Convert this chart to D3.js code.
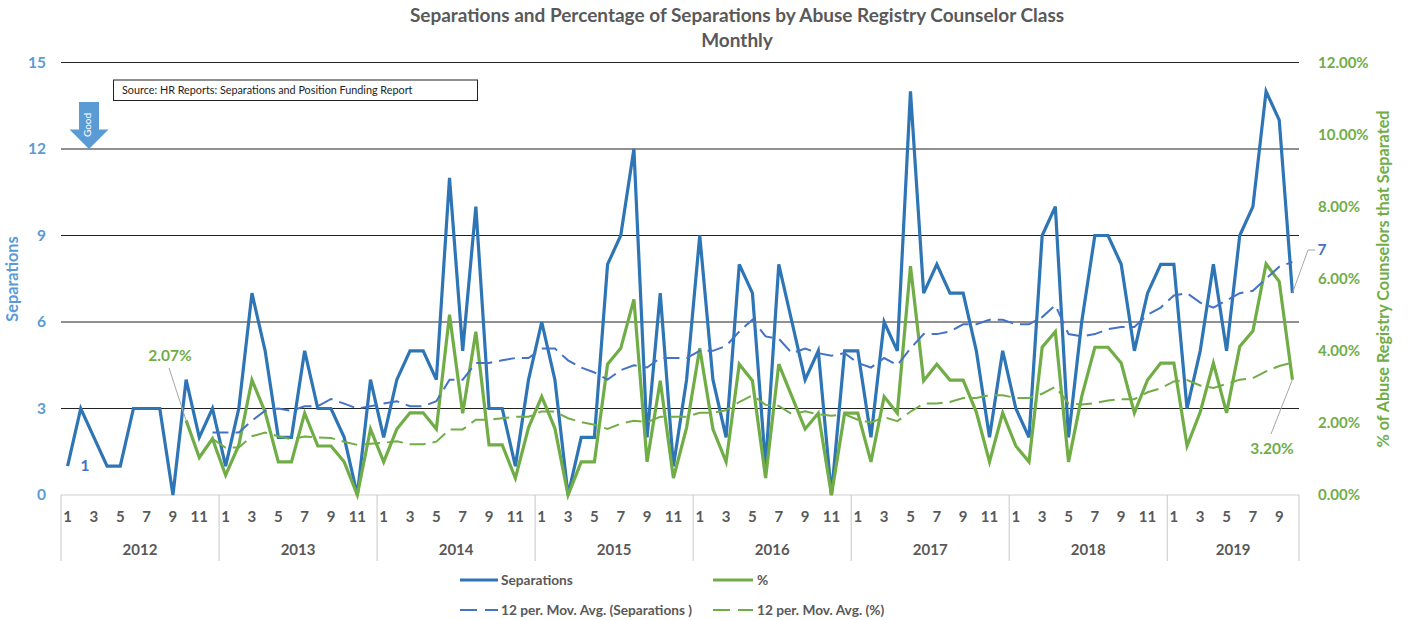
<!DOCTYPE html>
<html><head><meta charset="utf-8">
<script src="https://cdn.jsdelivr.net/npm/d3@7/dist/d3.min.js"></script>
<style>html,body{margin:0;background:#fff}svg{display:block}text{font-family:Lato,"Open Sans",sans-serif}</style>
</head><body><svg id="c" width="1408" height="620"></svg>
<script>
const years = [2012,2013,2014,2015,2016,2017,2018,2019];
const monthsPerYear = [12,12,12,12,12,12,12,10];
const separations = [1,3,2,1,1,3,3,3,0,4,2,3, 1,3,7,5,2,2,5,3,3,2,0,4, 2,4,5,5,4,11,5,10,3,3,1,4, 6,4,0,2,2,8,9,12,2,7,1,4, 9,4,2,8,7,1,8,6,4,5,0,5, 5,2,6,5,14,7,8,7,7,5,2,5, 3,2,9,10,2,6,9,9,8,5,7,8, 8,3,5,8,5,9,10,14,13,7];
const percent = [null,null,null,null,null,null,null,null,null,2.07,1.04,1.56,
 .55,1.38,3.19,2.3,.92,.92,2.27,1.36,1.36,.92,0,1.83,
 .92,1.83,2.28,2.28,1.83,5.0,2.27,4.53,1.39,1.39,.47,1.87,
 2.73,1.85,0,.92,.92,3.63,4.07,5.43,.92,3.17,.47,1.87,
 4.07,1.83,.92,3.63,3.17,.47,3.63,2.73,1.83,2.27,0,2.27,
 2.27,.92,2.73,2.27,6.35,3.17,3.63,3.19,3.19,2.3,.92,2.28,
 1.36,.92,4.1,4.53,.92,2.73,4.1,4.1,3.66,2.28,3.19,3.66,
 3.66,1.36,2.3,3.66,2.28,4.12,4.55,6.41,5.92,3.20];
const sepAvg = [null,null,null,null,null,null,null,null,null,null,null,2.17,
 2.17,2.17,2.58,2.92,3,2.92,3.08,3.08,3.33,3.17,3,3.08,
 3.17,3.25,3.08,3.08,3.25,4,4,4.58,4.58,4.67,4.75,4.75,
 5.08,5.08,4.67,4.42,4.25,4,4.33,4.5,4.42,4.75,4.75,4.75,
 5,5,5.17,5.67,6.08,5.5,5.42,4.92,5.08,4.92,4.83,4.92,
 4.58,4.42,4.75,4.5,5.08,5.58,5.58,5.67,5.92,5.92,6.08,6.08,
 5.92,5.92,6.17,6.58,5.58,5.5,5.58,5.75,5.83,5.83,6.25,6.5,
 6.92,7,6.67,6.5,6.75,7,7.08,7.5,7.92,8.08];
const pctAvg = [null,null,null,null,null,null,null,null,null,null,null,1.56,
 1.31,1.32,1.63,1.73,1.63,1.55,1.62,1.60,1.58,1.48,1.39,1.42,
 1.45,1.49,1.41,1.41,1.48,1.82,1.82,2.09,2.09,2.13,2.17,2.17,
 2.32,2.32,2.13,2.02,1.95,1.83,1.98,2.06,2.02,2.17,2.17,2.17,
 2.28,2.28,2.35,2.58,2.77,2.50,2.47,2.24,2.32,2.24,2.20,2.24,
 2.09,2.01,2.16,2.05,2.31,2.54,2.54,2.58,2.69,2.69,2.77,2.77,
 2.69,2.69,2.81,3.0,2.54,2.51,2.55,2.62,2.66,2.66,2.85,2.96,
 3.15,3.19,3.04,2.97,3.08,3.20,3.24,3.43,3.58,3.67];
const leftTicks = [0,3,6,9,12,15];
const rightTicks = [0,2,4,6,8,10,12];
const monthLabels = [1,3,5,7,9,11];
const titleLines = ["Separations and Percentage of Separations by Abuse Registry Counselor Class","Monthly"];
const legendItems = [
 {name:"Separations",c:"#2E75B6",w:3.2,d:null,col:0,row:0},
 {name:"%",c:"#70AD47",w:3.2,d:null,col:1,row:0},
 {name:"12 per. Mov. Avg. (Separations )",c:"#4472C4",w:2,d:"17 8",col:0,row:1},
 {name:"12 per. Mov. Avg. (%)",c:"#70AD47",w:2,d:"17 8",col:1,row:1}];

const L=61,R=1299,T=62.5,B=495,AXB=561;
const x=d3.scaleLinear().domain([0,94]).range([L,R]);
const cx=i=>x(i+.5);
const yL=d3.scaleLinear().domain([0,15]).range([B,T]);
const yR=d3.scaleLinear().domain([0,12]).range([B,T]);
const svg=d3.select("#c");
const blueTick="#5B9BD5", greenTick="#70AD47", greyText="#595959";

// title
svg.selectAll(".t").data(titleLines).join("text").attr("x",737).attr("y",(d,i)=>22+i*24.5)
 .attr("text-anchor","middle").attr("font-size",19).attr("font-weight",700).attr("fill",greyText).text(d=>d);

// gridlines
svg.append("g").selectAll("line").data(leftTicks.slice(1)).join("line")
 .attr("x1",L).attr("x2",R).attr("y1",d=>yL(d)).attr("y2",d=>yL(d)).attr("stroke","#222").attr("stroke-width",1.2);

// axes via d3
const gl=svg.append("g").attr("transform",`translate(${L},0)`).call(d3.axisLeft(yL).tickValues(leftTicks).tickSize(0).tickPadding(15));
gl.select(".domain").remove();
gl.selectAll("text").attr("font-size",15.5).attr("font-weight",700).attr("fill",blueTick).style("font-family","Lato");
const gr=svg.append("g").attr("transform",`translate(${R},0)`).call(d3.axisRight(yR).tickValues(rightTicks).tickFormat(d=>d.toFixed(2)+"%").tickSize(0).tickPadding(19));
gr.select(".domain").remove();
gr.selectAll("text").attr("font-size",15).attr("font-weight",700).attr("fill",greenTick).style("font-family","Lato");

// category axis
const axis=svg.append("g");
axis.append("line").attr("x1",L).attr("x2",R).attr("y1",B).attr("y2",B).attr("stroke","#D0D0D0").attr("stroke-width",1.2);
let start=0; const yearStarts=[];
years.forEach((y,i)=>{yearStarts.push(start);start+=monthsPerYear[i];});
yearStarts.concat([94]).forEach(s=>axis.append("line").attr("x1",x(s)).attr("x2",x(s)).attr("y1",B).attr("y2",AXB).attr("stroke","#D0D0D0").attr("stroke-width",1.2));
years.forEach((yr,i)=>{
 axis.append("text").attr("x",(x(yearStarts[i])+x(yearStarts[i]+monthsPerYear[i]))/2).attr("y",555).attr("text-anchor","middle")
  .attr("font-size",15).attr("font-weight",700).attr("fill",greyText).text(yr);
 monthLabels.filter(m=>m<=monthsPerYear[i]).forEach(m=>{
  axis.append("text").attr("x",cx(yearStarts[i]+m-1)).attr("y",522).attr("text-anchor","middle")
   .attr("font-size",15).attr("font-weight",700).attr("fill",greyText).text(m);
 });
});

// axis titles
svg.append("text").attr("transform","translate(18,279) rotate(-90)").attr("text-anchor","middle").attr("font-size",16.3).attr("font-weight",700).attr("fill",blueTick).text("Separations");
svg.append("text").attr("transform","translate(1389,279) rotate(-90)").attr("text-anchor","middle").attr("font-size",16.2).attr("font-weight",700).attr("fill",greenTick).text("% of Abuse Registry Counselors that Separated");

// series
const line=(y)=>d3.line().defined(d=>d!=null).x((d,i)=>cx(i)).y(d=>y(d));
const seriesDefs=[
 {v:separations,y:yL,c:"#2E75B6",w:3.2},
 {v:percent,y:yR,c:"#70AD47",w:3.2},
 {v:sepAvg,y:yL,c:"#4472C4",w:2,d:"16 7"},
 {v:pctAvg,y:yR,c:"#70AD47",w:2,d:"16 7"}];
svg.append("g").selectAll("path").data(seriesDefs).join("path")
 .attr("d",s=>line(s.y)(s.v)).attr("fill","none").attr("stroke",s=>s.c).attr("stroke-width",s=>s.w)
 .attr("stroke-dasharray",s=>s.d||null).attr("stroke-linejoin","miter").attr("stroke-miterlimit",4);

// leader lines + data labels
const leaders=[
 [[169,368],[cx(9),yR(2.07)]],
 [[cx(93),yL(7)],[1308,250],[1315,250]],
 [[1271,434],[cx(93),yR(3.2)]]];
svg.append("g").selectAll("path").data(leaders).join("path").attr("d",d=>d3.line()(d)).attr("fill","none").attr("stroke","#A6A6A6").attr("stroke-width",1);
const labels=[{t:"2.07%",x:170,y:361,c:greenTick},{t:"1",x:85,y:471,c:"#4472C4"},{t:"7",x:1322,y:255,c:"#4472C4"},{t:"3.20%",x:1272,y:454,c:greenTick}];
svg.append("g").selectAll("text").data(labels).join("text").attr("x",d=>d.x).attr("y",d=>d.y).attr("text-anchor","middle")
 .attr("font-size",15.5).attr("font-weight",700).attr("fill",d=>d.c).text(d=>d.t);

// source box
svg.append("rect").attr("x",113.5).attr("y",80).attr("width",364).attr("height",20.5).attr("fill","#fff").attr("stroke","#222").attr("stroke-width",1);
svg.append("text").attr("x",122).attr("y",93.5).attr("font-size",10.8).attr("fill","#222").text("Source: HR Reports: Separations and Position Funding Report");

// Good arrow
const ax=89;
svg.append("path").attr("d",d3.line()([[ax-10,102],[ax+10,102],[ax+10,129.5],[ax+19.5,129.5],[ax,149],[ax-19.5,129.5],[ax-10,129.5]])+"Z").attr("fill","#5B9BD5");
svg.append("text").attr("transform",`translate(${ax-2},125) rotate(-90)`).attr("text-anchor","middle").attr("dy","0.35em").attr("font-size",10).attr("fill","#fff").text("Good");

// legend
const lg=svg.append("g");
const colX=[460,713], rowY=[580,610];
legendItems.forEach(it=>{
 const xx=colX[it.col], yy=rowY[it.row];
 lg.append("line").attr("x1",xx).attr("x2",xx+(it.col?40:38)).attr("y1",yy).attr("y2",yy).attr("stroke",it.c).attr("stroke-width",it.w).attr("stroke-dasharray",it.d);
 lg.append("text").attr("x",xx+(it.col?44:41)).attr("y",yy+4.5).attr("font-size",13.7).attr("font-weight",700).attr("fill",greyText).text(it.name);
});
</script></body></html>
